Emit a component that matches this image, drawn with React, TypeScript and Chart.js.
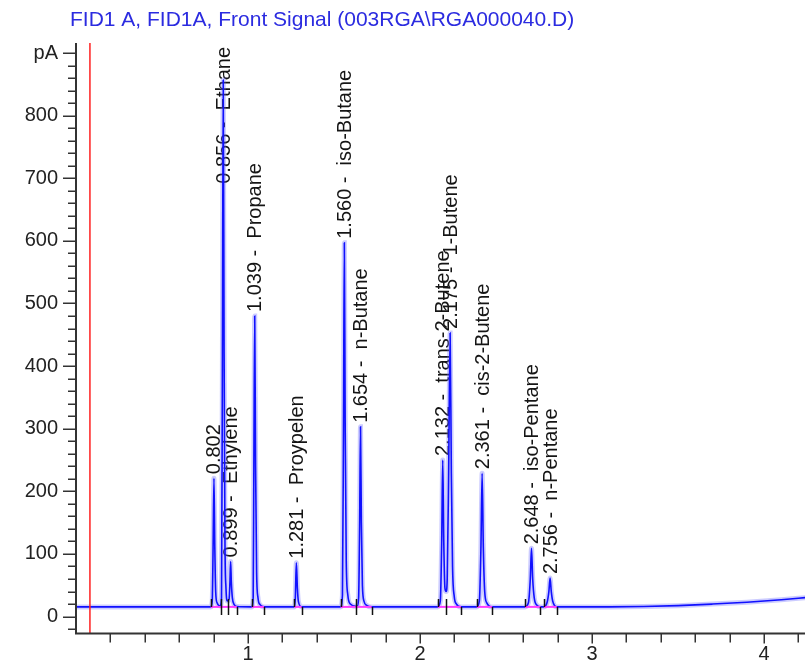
import React, { useEffect, useRef } from "react";
import { Chart, registerables } from "chart.js";
Chart.register(...registerables);

const titleText = "FID1 A, FID1A, Front Signal (003RGA\\RGA000040.D)";
const yUnitLabel = "pA";

// retention time (min), compound, apex height (pA)
const peakTimes = [0.802, 0.856, 0.899, 1.039, 1.281, 1.56, 1.654, 2.132, 2.175, 2.361, 2.648, 2.756];
const peakNames = ["", "Ethane", "Ethylene", "Propane", "Proypelen", "iso-Butane", "n-Butane", "trans-2-Butene", "1-Butene", "cis-2-Butene", "iso-Pentane", "n-Pentane"];
const peakHeights = [221, 857, 88, 480, 86, 597, 303, 250, 453, 229, 109, 61.5];
const peakStarts = [0.783, 0.845, 0.885, 1.021, 1.269, 1.538, 1.626, 2.103, 2.15, 2.33, 2.61, 2.72];
const peakEnds = [0.845, 0.885, 0.935, 1.093, 1.312, 1.626, 1.719, 2.15, 2.238, 2.42, 2.7, 2.795];
const baselineLevel = 15.5;

// detector signal
const signalTime = [
  0, 0.783, 0.792, 0.797, 0.802, 0.807, 0.812, 0.82, 0.838,
  0.846, 0.851, 0.856, 0.861, 0.866, 0.872, 0.88,
  0.89, 0.895, 0.899, 0.903, 0.909, 0.92, 0.935,
  1.021, 1.03, 1.034, 1.039, 1.044, 1.05, 1.058, 1.07, 1.093,
  1.269, 1.275, 1.281, 1.287, 1.293, 1.312,
  1.538, 1.549, 1.555, 1.56, 1.565, 1.571, 1.58, 1.595, 1.626,
  1.636, 1.643, 1.649, 1.654, 1.659, 1.665, 1.675, 1.69, 1.719,
  2.103, 2.118, 2.126, 2.132, 2.138, 2.145, 2.152,
  2.158, 2.166, 2.175, 2.182, 2.189, 2.199, 2.212, 2.238,
  2.33, 2.345, 2.354, 2.361, 2.368, 2.376, 2.388, 2.42,
  2.61, 2.63, 2.641, 2.648, 2.655, 2.664, 2.68, 2.7,
  2.72, 2.738, 2.749, 2.756, 2.763, 2.772, 2.795,
  3.1, 3.3, 3.5, 3.7, 3.9, 4.1, 4.25,
];
const signalPA = [
  15.5, 15.5, 25, 110, 221, 110, 40, 22, 17,
  30, 400, 857, 420, 120, 45, 25,
  28, 55, 88, 55, 30, 19, 16,
  15.5, 30, 240, 480, 240, 70, 30, 19, 15.5,
  15.5, 30, 86, 45, 24, 15.5,
  15.5, 35, 300, 597, 300, 90, 35, 20, 16.5,
  17, 30, 150, 303, 150, 50, 24, 18, 15.5,
  15.5, 25, 120, 250, 120, 45, 40,
  60, 220, 453, 230, 80, 32, 20, 15.5,
  15.5, 25, 110, 229, 110, 40, 22, 15.5,
  15.5, 22, 60, 109, 60, 30, 18, 15.5,
  15.5, 22, 40, 61.5, 40, 24, 15.5,
  15.5, 16, 17.5, 20, 23, 27, 30.5,
];

const markerTime = 0.081;
const yLabelValues = [0, 100, 200, 300, 400, 500, 600, 700, 800];
const xLabelValues = [1, 2, 3, 4];

const FONT = 'Arial, "Liberation Sans", sans-serif';

export default function App() {
  const ref = useRef<HTMLCanvasElement>(null);

  useEffect(() => {
    const canvas = ref.current!;
    const yMin = -27;
    const yMax = 916;
    const xMin = 0;
    const xMax = 4.238;

    const yTickVals: number[] = [];
    for (let v = -20; v <= 900; v += 20) yTickVals.push(v);
    const xTickVals: number[] = [];
    for (let k = 1; k <= 21; k++) xTickVals.push(Math.round(k * 2) / 10);

    const signal = signalTime.map((t, i) => ({ x: t, y: signalPA[i] }));
    const marker = [
      { x: markerTime, y: yMin },
      { x: markerTime, y: yMax },
    ];

    const decor = {
      id: "decor",
      beforeDatasetsDraw(chart: any) {
        const { ctx, chartArea, scales } = chart;
        const xs = scales.x;
        const ys = scales.y;
        ctx.save();
        ctx.font = `20px ${FONT}`;
        ctx.fillStyle = "#151515";
        ctx.textAlign = "left";
        ctx.textBaseline = "middle";
        peakTimes.forEach((t, i) => {
          const label = peakNames[i] ? `${t.toFixed(3)} -  ${peakNames[i]}` : t.toFixed(3);
          const w = ctx.measureText(label).width;
          const px = xs.getPixelForValue(t);
          const apex = ys.getPixelForValue(peakHeights[i]);
          const bottom = Math.max(apex - 4, chartArea.top + 4 + w);
          ctx.save();
          ctx.translate(px + 1, bottom);
          ctx.rotate(-Math.PI / 2);
          ctx.fillText(label, 0, 0);
          ctx.restore();
        });
        ctx.restore();
      },
      afterDatasetsDraw(chart: any) {
        const { ctx, scales } = chart;
        const xs = scales.x;
        const ys = scales.y;
        const yb = ys.getPixelForValue(baselineLevel);
        ctx.save();
        ctx.strokeStyle = "#ff3cff";
        ctx.lineWidth = 2;
        peakTimes.forEach((_, i) => {
          ctx.beginPath();
          ctx.moveTo(xs.getPixelForValue(peakStarts[i]), yb);
          ctx.lineTo(xs.getPixelForValue(peakEnds[i]), yb);
          ctx.stroke();
        });
        ctx.strokeStyle = "#111";
        ctx.lineWidth = 1.5;
        peakTimes.forEach((_, i) => {
          const a = Math.round(xs.getPixelForValue(peakStarts[i])) + 0.5;
          const b = Math.round(xs.getPixelForValue(peakEnds[i])) + 0.5;
          ctx.beginPath();
          ctx.moveTo(a, yb);
          ctx.lineTo(a, yb - 8);
          ctx.moveTo(b, yb);
          ctx.lineTo(b, yb + 8);
          ctx.stroke();
        });
        ctx.restore();
      },
      afterDraw(chart: any) {
        const { ctx, chartArea, scales } = chart;
        const xs = scales.x;
        const ys = scales.y;
        ctx.save();
        // title
        ctx.font = `21px ${FONT}`;
        ctx.fillStyle = "#2b2be0";
        ctx.textAlign = "left";
        ctx.textBaseline = "middle";
        ctx.fillText(titleText, 70, 20);
        // axes
        ctx.strokeStyle = "#333";
        ctx.lineWidth = 2;
        ctx.beginPath();
        ctx.moveTo(chartArea.left, chartArea.top);
        ctx.lineTo(chartArea.left, chartArea.bottom);
        ctx.lineTo(chartArea.right, chartArea.bottom);
        ctx.stroke();
        ctx.lineWidth = 1.5;
        yTickVals.forEach((v) => {
          const len = v % 100 === 0 ? 13 : 8;
          const p = Math.round(ys.getPixelForValue(v)) + 0.25;
          ctx.beginPath();
          ctx.moveTo(chartArea.left - len, p);
          ctx.lineTo(chartArea.left, p);
          ctx.stroke();
        });
        xTickVals.forEach((v) => {
          const len = Number.isInteger(v) ? 10 : 9;
          const p = Math.round(xs.getPixelForValue(v)) + 0.25;
          ctx.beginPath();
          ctx.moveTo(p, chartArea.bottom);
          ctx.lineTo(p, chartArea.bottom + len);
          ctx.stroke();
        });
        ctx.restore();
      },
    };

    const chart = new Chart(canvas, {
      type: "line",
      data: {
        datasets: [
          {
            data: marker,
            borderColor: "#ff2020",
            borderWidth: 1.5,
            pointRadius: 0,
            tension: 0,
          },
          {
            data: signal,
            borderColor: "#1010ff",
            borderWidth: 1.6,
            pointRadius: 0,
            cubicInterpolationMode: "monotone",
          },
          {
            data: signal,
            borderColor: "rgba(110,110,255,0.35)",
            borderWidth: 5,
            pointRadius: 0,
            cubicInterpolationMode: "monotone",
          },
        ],
      },
      options: {
        responsive: false,
        devicePixelRatio: 1,
        animation: false,
        events: [],
        layout: { padding: { top: 43, left: 0, right: 0, bottom: 0 } },
        plugins: {
          legend: { display: false },
          tooltip: { enabled: false },
          title: { display: false },
        },
        scales: {
          x: {
            type: "linear",
            min: xMin,
            max: xMax,
            afterBuildTicks: (s: any) => {
              s.ticks = xTickVals.map((v) => ({ value: v }));
            },
            afterFit: (s: any) => {
              s.height = 30.5;
            },
            ticks: {
              autoSkip: false,
              maxRotation: 0,
              padding: 0,
              color: "#222",
              font: { family: FONT, size: 20 },
              callback: (v: any) => (xLabelValues.includes(Number(v)) ? String(v) : ""),
            },
            grid: { display: true, drawOnChartArea: false, tickLength: 9, tickColor: "rgba(0,0,0,0)" },
            border: { display: false },
          },
          y: {
            type: "linear",
            min: yMin,
            max: yMax,
            afterBuildTicks: (s: any) => {
              s.ticks = yTickVals.map((v) => ({ value: v }));
            },
            afterFit: (s: any) => {
              s.width = 76;
            },
            ticks: {
              autoSkip: false,
              padding: 5,
              color: "#222",
              font: { family: FONT, size: 20 },
              callback: (v: any) => {
                const n = Number(v);
                if (n === 900) return yUnitLabel;
                return yLabelValues.includes(n) ? String(n) : "";
              },
            },
            grid: { display: true, drawOnChartArea: false, tickLength: 13, tickColor: "rgba(0,0,0,0)" },
            border: { display: false },
          },
        },
      },
      plugins: [decor],
    } as any);

    return () => chart.destroy();
  }, []);

  return (
    <div style={{ position: "fixed", left: 0, top: 0, width: 805, height: 664, background: "#fff" }}>
      <canvas ref={ref} width={805} height={664} style={{ display: "block", width: 805, height: 664 }} />
    </div>
  );
}
